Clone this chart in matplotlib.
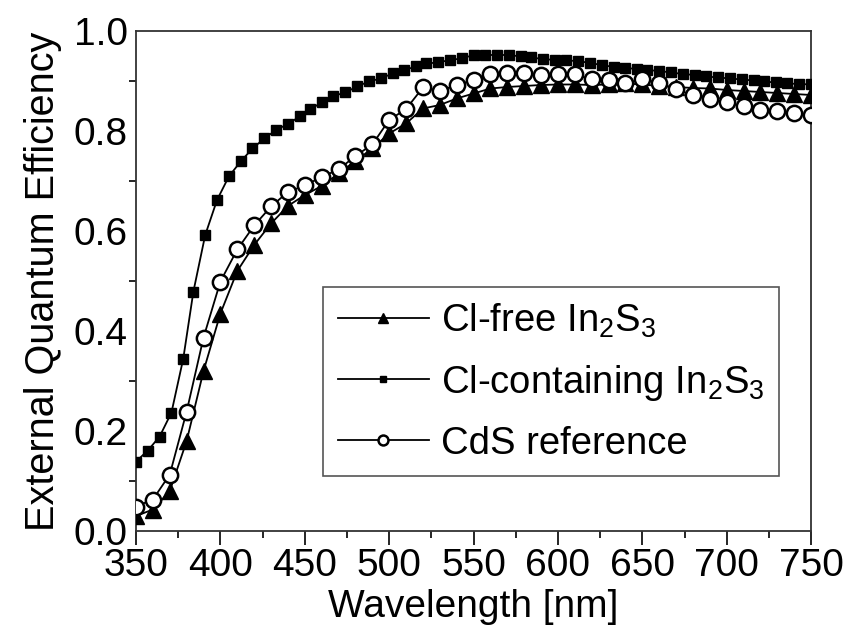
import matplotlib
matplotlib.use("Agg")
import matplotlib.pyplot as plt
from matplotlib.ticker import MultipleLocator

plt.rcParams['font.family'] = ['Liberation Sans', 'DejaVu Sans']
plt.rcParams['mathtext.fontset'] = 'custom'
plt.rcParams['mathtext.rm'] = 'Liberation Sans'
plt.rcParams['mathtext.it'] = 'Liberation Sans'

# Cl-free In2S3 and CdS reference, 10 nm steps
wl_10 = [350, 360, 370, 380, 390, 400, 410, 420, 430, 440,
         450, 460, 470, 480, 490, 500, 510, 520, 530, 540,
         550, 560, 570, 580, 590, 600, 610, 620, 630, 640,
         650, 660, 670, 680, 690, 700, 710, 720, 730, 740, 750]
qe_cl_free = [0.030, 0.043, 0.080, 0.180, 0.320, 0.435, 0.520, 0.572, 0.615, 0.650,
              0.672, 0.690, 0.715, 0.740, 0.765, 0.795, 0.815, 0.845, 0.852, 0.865,
              0.875, 0.885, 0.888, 0.890, 0.892, 0.893, 0.893, 0.892, 0.893, 0.895,
              0.893, 0.890, 0.888, 0.886, 0.885, 0.882, 0.880, 0.878, 0.876, 0.874, 0.872]
qe_cds = [0.049, 0.063, 0.113, 0.239, 0.387, 0.499, 0.563, 0.611, 0.649, 0.678,
          0.691, 0.708, 0.723, 0.750, 0.773, 0.822, 0.844, 0.887, 0.880, 0.892,
          0.902, 0.913, 0.915, 0.915, 0.911, 0.913, 0.913, 0.903, 0.902, 0.895,
          0.904, 0.896, 0.883, 0.872, 0.863, 0.857, 0.849, 0.842, 0.839, 0.835, 0.832]

# Cl-containing In2S3, finer sampling
wl_cl = [350, 357, 364, 371, 378, 384, 391, 398, 405, 412,
         419, 426, 433, 440, 447, 453, 460, 467, 474, 481,
         488, 495, 502, 509, 516, 522, 529, 536, 543, 550,
         557, 564, 571, 578, 584, 591, 598, 605, 612, 619,
         626, 633, 640, 647, 653, 660, 667, 674, 681, 688,
         695, 702, 709, 716, 722, 729, 736, 743, 750]
qe_cl = [0.139, 0.161, 0.189, 0.237, 0.345, 0.479, 0.592, 0.662, 0.709, 0.739,
         0.765, 0.785, 0.802, 0.814, 0.829, 0.843, 0.857, 0.870, 0.877, 0.889,
         0.899, 0.905, 0.915, 0.922, 0.929, 0.935, 0.937, 0.942, 0.945, 0.952,
         0.952, 0.952, 0.952, 0.949, 0.947, 0.944, 0.942, 0.941, 0.940, 0.936,
         0.932, 0.928, 0.926, 0.924, 0.922, 0.920, 0.917, 0.914, 0.912, 0.909,
         0.907, 0.905, 0.903, 0.901, 0.899, 0.897, 0.895, 0.894, 0.893]

fig = plt.figure(figsize=(8.47, 6.39), dpi=100)
ax = fig.add_axes([0.1606, 0.169, 0.797, 0.7825])

ax.plot(wl_10, qe_cl_free, color='black', lw=1.3, marker='^', ms=11,
        mfc='black', mec='black', label=r'Cl-free In$_2$S$_3$', zorder=3)
ax.plot(wl_cl, qe_cl, color='black', lw=1.3, marker='s', ms=6.5,
        mfc='black', mec='black', label=r'Cl-containing In$_2$S$_3$', zorder=4)
ax.plot(wl_10, qe_cds, color='black', lw=1.3, marker='o', ms=11,
        mfc='white', mec='black', mew=1.8, label='CdS reference', zorder=5)

ax.set_xlim(350, 750)
ax.set_ylim(0.0, 1.0)
ax.xaxis.set_major_locator(MultipleLocator(50))
ax.xaxis.set_minor_locator(MultipleLocator(25))
ax.yaxis.set_major_locator(MultipleLocator(0.2))
ax.yaxis.set_minor_locator(MultipleLocator(0.1))
ax.yaxis.set_major_formatter(plt.FormatStrFormatter('%.1f'))

ax.tick_params(axis='x', which='major', direction='out', length=10, width=1.2,
               labelsize=28, pad=2)
ax.tick_params(axis='x', which='minor', direction='out', length=5, width=1.2)
ax.tick_params(axis='y', which='major', direction='out', length=0, labelsize=28, pad=6)
ax.tick_params(axis='y', which='minor', direction='out', length=5, width=1.2)
for s in ax.spines.values():
    s.set_linewidth(1.3)
    s.set_color('#333333')

ax.set_xlabel('Wavelength [nm]', fontsize=28, labelpad=4)
ax.set_ylabel('External Quantum Efficiency', fontsize=28.5, labelpad=8)

leg = ax.legend(loc='upper left', bbox_to_anchor=(0.277, 0.488), fontsize=27.5,
                markerscale=0.65, handlelength=2.4, handletextpad=0.3,
                labelspacing=0.6, borderpad=0.38, fancybox=False,
                framealpha=1, edgecolor='#555555', borderaxespad=0)
leg.get_frame().set_linewidth(1.2)

fig.savefig('out.png', dpi=100)
